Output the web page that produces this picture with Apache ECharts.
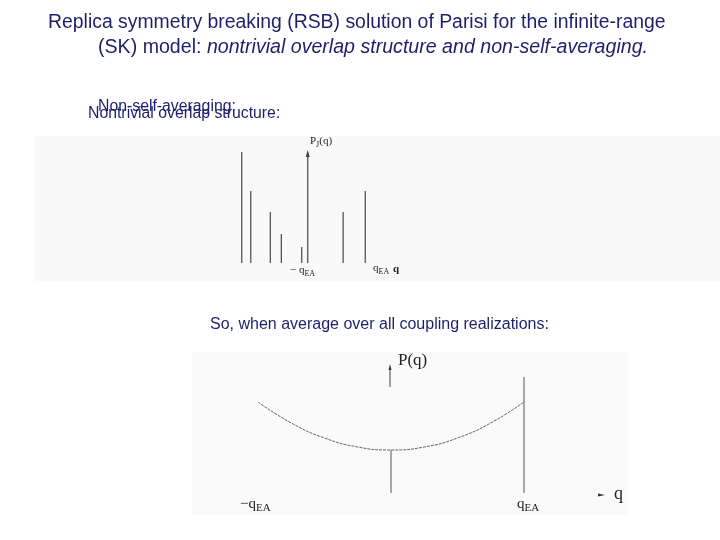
<!DOCTYPE html>
<html><head><meta charset="utf-8">
<script src="https://cdn.jsdelivr.net/npm/echarts@6/dist/echarts.min.js"></script>
<style>html,body{margin:0;background:#fff}#c{width:720px;height:540px}</style>
</head><body><div id="c"></div>
<script>
// Top panel: delta peaks of P_J(q) for one coupling realization
const peakQ = [-1, -0.854, -0.537, -0.359, -0.029, 0.642, 1.0];
const peakH = [111, 72, 51, 29, 16, 51, 72];
// Bottom panel: averaged P(q)
const curveQ = [-1, -0.75, -0.5, -0.25, 0, 0.25, 0.5, 0.75, 1];
const curveP = [91, 70, 55, 46, 43, 46, 55, 70, 91];
const spikeQ = [0, 1];
const spikeH = [43, 116];

const chart = echarts.init(document.getElementById('c'));
const navy = '#1c1f6b';
const serif = 'Liberation Serif';
const ax = (gi, min, max) => ({gridIndex: gi, type: 'value', min, max, show: false});
chart.setOption({
  animation: false,
  grid: [
    {left: 180, width: 247, top: 143, height: 120},
    {left: 191.5, width: 399, top: 363, height: 130}
  ],
  xAxis: [ax(0, -2, 2), ax(1, -1.5, 1.5)],
  yAxis: [ax(0, 0, 120), ax(1, 0, 130)],
  graphic: [
    {type: 'rect', z: -10, shape: {x: 35, y: 136, width: 685, height: 145}, style: {fill: '#f9f9f9'}},
    {type: 'rect', z: -10, shape: {x: 192, y: 352, width: 436, height: 163}, style: {fill: '#fafafa'}},
    {type: 'text', left: 48, top: 13, style: {text: 'Replica symmetry breaking (RSB) solution of Parisi for the infinite-range', font: '19.4px "Liberation Sans"', fill: navy}},
    {type: 'text', left: 98, top: 38, style: {text: '{n|(SK) model: }{i|nontrivial overlap structure and non-self-averaging.}', rich: {n: {font: '19.6px "Liberation Sans"', fill: navy}, i: {font: 'italic 19.6px "Liberation Sans"', fill: navy}}}},
    {type: 'text', left: 98, top: 99, style: {text: 'Non-self-averaging:', font: '15.8px "Liberation Sans"', fill: navy}},
    {type: 'text', left: 88, top: 106, style: {text: 'Nontrivial overlap structure:', font: '15.8px "Liberation Sans"', fill: navy}},
    {type: 'text', left: 210, top: 317, style: {text: 'So, when average over all coupling realizations:', font: '16px "Liberation Sans"', fill: navy}},
    // top panel labels
    {type: 'text', left: 290, top: 265, style: {text: '− q{s|EA}', font: '11px ' + serif, fill: '#222', rich: {s: {font: '8px ' + serif, padding: [6, 0, 0, 0]}}}},
    {type: 'text', left: 373, top: 263, style: {text: 'q{s|EA}', font: '11px ' + serif, fill: '#222', rich: {s: {font: '8px ' + serif, padding: [6, 0, 0, 0]}}}},
    {type: 'text', left: 393, top: 264, style: {text: 'q', font: 'bold 11px ' + serif, fill: '#222'}},
    {type: 'text', left: 310, top: 136, style: {text: 'P{s|J}(q)', font: '11px ' + serif, fill: '#222', rich: {s: {font: '8px ' + serif, padding: [6, 0, 0, 0]}}}},
    {type: 'line', shape: {x1: 307.7, y1: 263, x2: 307.7, y2: 153}, style: {stroke: '#666', lineWidth: 1.5}},
    {type: 'polygon', shape: {points: [[305.7, 157], [309.7, 157], [307.7, 150]]}, style: {fill: '#444'}},
    // bottom panel labels and arrows
    {type: 'line', shape: {x1: 390, y1: 387, x2: 390, y2: 368}, style: {stroke: '#444', lineWidth: 1}},
    {type: 'polygon', shape: {points: [[388.5, 370], [391.5, 370], [390, 364]]}, style: {fill: '#333'}},
    {type: 'text', left: 398, top: 352, style: {text: 'P(q)', font: '17px ' + serif, fill: '#222'}},
    {type: 'text', left: 240, top: 497, style: {text: '−q{s|EA}', font: '15px ' + serif, fill: '#222', rich: {s: {font: '11px ' + serif, padding: [8, 0, 0, 0]}}}},
    {type: 'text', left: 517, top: 497, style: {text: 'q{s|EA}', font: '15px ' + serif, fill: '#222', rich: {s: {font: '11px ' + serif, padding: [8, 0, 0, 0]}}}},
    {type: 'polygon', shape: {points: [[598, 493.5], [598, 496.5], [605, 495]]}, style: {fill: '#333'}},
    {type: 'text', left: 614, top: 485, style: {text: 'q', font: '18px ' + serif, fill: '#222'}}
  ],
  series: [
    {type: 'bar', xAxisIndex: 0, yAxisIndex: 0, barWidth: 1.3, itemStyle: {color: '#555'},
     data: peakQ.map((q, i) => [q, peakH[i]])},
    {type: 'line', xAxisIndex: 1, yAxisIndex: 1, smooth: true, symbol: 'none',
     lineStyle: {color: '#666', width: 1, type: [3, 1]},
     data: curveQ.map((q, i) => [q, curveP[i]])},
    {type: 'bar', xAxisIndex: 1, yAxisIndex: 1, barWidth: 1, itemStyle: {color: '#555'},
     data: spikeQ.map((q, i) => [q, spikeH[i]])}
  ]
});
</script></body></html>
